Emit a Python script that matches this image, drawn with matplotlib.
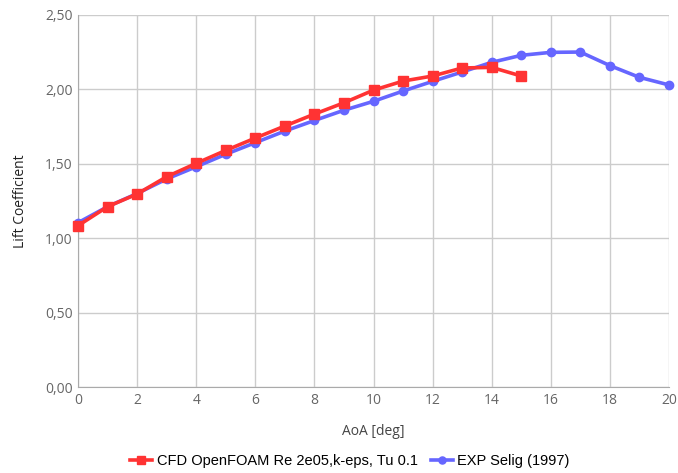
import matplotlib
matplotlib.use("Agg")
import matplotlib.pyplot as plt
from matplotlib.ticker import FuncFormatter, MultipleLocator

aoa_cfd = [0, 1, 2, 3, 4, 5, 6, 7, 8, 9, 10, 11, 12, 13, 14, 15]
cl_cfd = [1.084, 1.212, 1.297, 1.413, 1.503, 1.590, 1.673, 1.754, 1.834, 1.910, 1.995, 2.056, 2.090, 2.144, 2.148, 2.090]
aoa_exp = [0, 1, 2, 3, 4, 5, 6, 7, 8, 9, 10, 11, 12, 13, 14, 15, 16, 17, 18, 19, 20]
cl_exp = [1.104, 1.212, 1.300, 1.398, 1.480, 1.564, 1.642, 1.720, 1.791, 1.860, 1.920, 1.989, 2.054, 2.117, 2.182, 2.229, 2.249, 2.251, 2.160, 2.081, 2.030]

plt.rcParams['font.family'] = ['Open Sans', 'DejaVu Sans']
fig = plt.figure(figsize=(6.78, 4.73), dpi=100)
ax = fig.add_axes([78/678, 1 - 387/473, (669-78)/678, (387-15)/473])

red = '#ff3333'
blue = '#6666ff'
ax.plot(aoa_exp, cl_exp, color=blue, lw=2.6, marker='o', ms=6, label='EXP Selig (1997)', zorder=3, clip_on=False)
ax.plot(aoa_cfd, cl_cfd, color=red, lw=2.6, marker='s', ms=7, label='CFD OpenFOAM Re 2e05,k-eps, Tu 0.1', zorder=4, clip_on=False)

ax.set_xlim(0, 20)
ax.set_ylim(0, 2.5)
ax.xaxis.set_major_locator(MultipleLocator(2))
ax.yaxis.set_major_locator(MultipleLocator(0.5))
ax.yaxis.set_major_formatter(FuncFormatter(lambda v, p: f"{v:.2f}".replace('.', ',')))
ax.grid(True, color='#cccccc', lw=1)
ax.set_axisbelow(True)
for s in ['top', 'right']:
    ax.spines[s].set_visible(False)
for s in ['left', 'bottom']:
    ax.spines[s].set_color('#aaaaaa')
ax.tick_params(length=0, labelsize=10, colors='#666666', pad=4)
ax.set_xlabel('AoA [deg]', fontsize=10, color='#444444', labelpad=12)
ax.set_ylabel('Lift Coefficient', fontsize=10, color='#222222', labelpad=12)

h, l = ax.get_legend_handles_labels()
fig.legend(h[::-1], l[::-1], loc='center', bbox_to_anchor=(0.516, 1 - 461/473), ncol=2, frameon=False,
           prop={'family': ['Liberation Sans', 'DejaVu Sans'], 'size': 10.5},
           handlelength=1.5, handletextpad=0.3, columnspacing=0.9, markerscale=0.85)

fig.savefig('out.png', dpi=100)
